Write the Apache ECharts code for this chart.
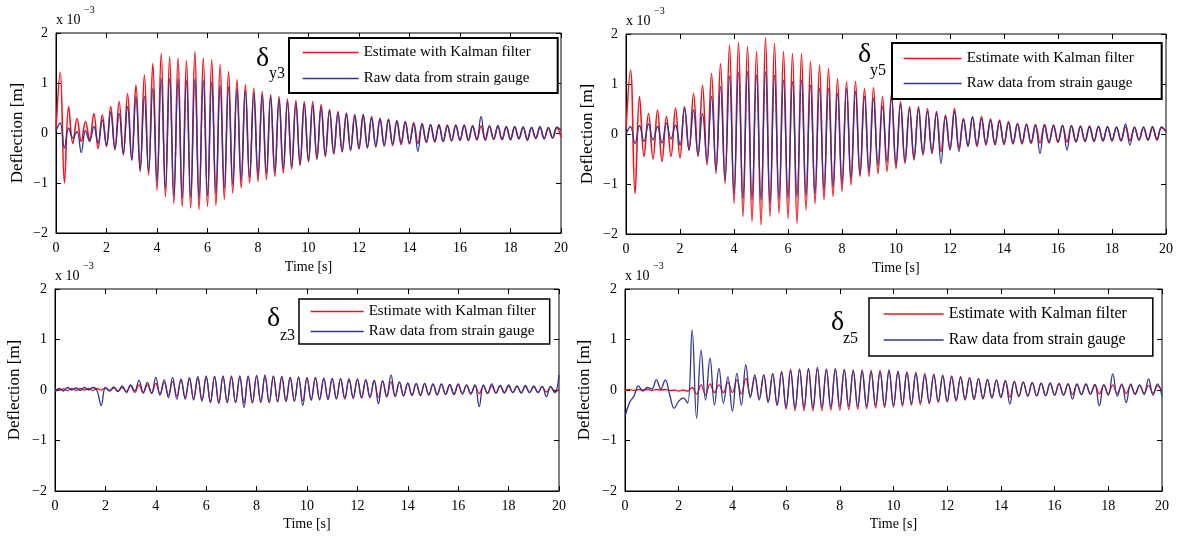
<!DOCTYPE html>
<html>
<head>
<meta charset="utf-8">
<script src="https://cdn.jsdelivr.net/npm/echarts@6/dist/echarts.min.js"></script>
<style>
  html, body { margin: 0; padding: 0; background: #fff; }
  #chart { width: 1181px; height: 536px; }
</style>
</head>
<body>
<div id="chart"></div>
<script>
// sample step of the read-off points [s], values in 1e-3 m
var dt = 1 / 6;

var xTicks = [0, 2, 4, 6, 8, 10, 12, 14, 16, 18, 20];
var yTicks = [-2, -1, 0, 1, 2];
var legendNames = ['Estimate with Kalman filter', 'Raw data from strain gauge'];

// delta y3
var y3Kalman = [
    0.05, 1.22, -1.00, 0.53, -0.21, 0.29, -0.17, 0.23, -0.14, 0.39,
    -0.31, 0.36, -0.27, 0.53, -0.34, 0.63, -0.44, 0.79, -0.54, 0.96,
    -0.77, 1.16, -0.84, 1.39, -1.14, 1.59, -1.27, 1.52, -1.41, 1.50,
    -1.47, 1.45, -1.50, 1.63, -1.53, 1.50, -1.47, 1.47, -1.45, 1.37,
    -1.33, 1.23, -1.20, 1.07, -1.10, 0.97, -1.00, 0.90, -0.97, 0.83,
    -0.93, 0.77, -0.87, 0.73, -0.80, 0.68, -0.72, 0.65, -0.65, 0.63,
    -0.58, 0.63, -0.53, 0.57, -0.47, 0.47, -0.42, 0.43, -0.38, 0.40,
    -0.35, 0.37, -0.32, 0.37, -0.30, 0.33, -0.28, 0.30, -0.26, 0.28,
    -0.25, 0.25, -0.23, 0.23, -0.22, 0.21, -0.21, 0.19, -0.19, 0.17,
    -0.18, 0.17, -0.17, 0.16, -0.16, 0.16, -0.15, 0.15, -0.15, 0.15,
    -0.14, 0.14, -0.14, 0.14, -0.13, 0.13, -0.13, 0.13, -0.12, 0.12,
    -0.12, 0.12, -0.12, 0.11, -0.11, 0.11, -0.11, 0.10, -0.10, 0.10,
    -0.08
];
var y3Raw = [
    0.05, 0.20, -0.30, 0.10, -0.10, 0.03, -0.39, 0.05, -0.17, 0.13,
    -0.20, 0.26, -0.24, 0.42, -0.31, 0.39, -0.41, 0.53, -0.54, 0.73,
    -0.74, 0.73, -0.77, 0.89, -0.97, 1.09, -1.11, 1.09, -1.25, 1.08,
    -1.30, 1.05, -1.28, 1.08, -1.30, 1.05, -1.25, 1.02, -1.20, 0.95,
    -1.10, 0.92, -1.02, 0.88, -0.95, 0.85, -0.88, 0.80, -0.85, 0.75,
    -0.80, 0.72, -0.78, 0.68, -0.72, 0.62, -0.68, 0.60, -0.62, 0.58,
    -0.55, 0.55, -0.50, 0.52, -0.45, 0.45, -0.40, 0.40, -0.36, 0.38,
    -0.33, 0.34, -0.30, 0.36, -0.28, 0.30, -0.26, 0.28, -0.25, 0.26,
    -0.22, 0.24, -0.20, 0.22, -0.20, 0.18, -0.37, 0.18, -0.18, 0.16,
    -0.16, 0.15, -0.17, 0.14, -0.15, 0.15, -0.14, 0.16, -0.14, 0.13,
    -0.13, 0.33, -0.14, 0.14, -0.12, 0.15, -0.13, 0.12, -0.14, 0.13,
    -0.11, 0.12, -0.15, 0.11, -0.10, 0.13, -0.12, 0.11, -0.10, 0.12,
    0.05
];

// delta y5
var y5Kalman = [
    0.10, 1.28, -1.19, 0.75, -0.45, 0.41, -0.50, 0.48, -0.55, 0.35,
    -0.45, 0.52, -0.48, 0.55, -0.32, 0.81, -0.45, 0.98, -0.62, 1.21,
    -0.79, 1.41, -0.99, 1.78, -1.39, 1.83, -1.65, 1.75, -1.75, 1.65,
    -1.82, 1.93, -1.65, 1.81, -1.59, 1.65, -1.69, 1.61, -1.79, 1.61,
    -1.52, 1.45, -1.39, 1.38, -1.32, 1.31, -1.25, 1.11, -1.15, 1.05,
    -1.02, 1.05, -0.85, 0.91, -0.85, 0.93, -0.79, 0.75, -0.75, 0.81,
    -0.69, 0.65, -0.59, 0.55, -0.52, 0.55, -0.42, 0.51, -0.39, 0.45,
    -0.35, 0.38, -0.32, 0.51, -0.29, 0.31, -0.25, 0.33, -0.25, 0.35,
    -0.22, 0.30, -0.22, 0.28, -0.21, 0.25, -0.20, 0.21, -0.20, 0.20,
    -0.19, 0.19, -0.18, 0.19, -0.18, 0.18, -0.17, 0.17, -0.16, 0.17,
    -0.16, 0.16, -0.15, 0.16, -0.15, 0.15, -0.14, 0.15, -0.14, 0.14,
    -0.13, 0.14, -0.13, 0.14, -0.12, 0.13, -0.12, 0.13, -0.12, 0.13,
    0.05
];
var y5Raw = [
    0.00, 0.15, -0.19, 0.17, -0.15, 0.20, -0.12, 0.15, -0.18, 0.22,
    -0.10, 0.18, -0.22, 0.51, -0.32, 0.48, -0.42, 0.41, -0.55, 0.75,
    -0.72, 0.95, -0.92, 1.16, -1.19, 1.23, -1.29, 1.25, -1.31, 1.18,
    -1.32, 1.25, -1.39, 1.18, -1.30, 1.08, -1.28, 1.05, -1.25, 1.08,
    -1.22, 0.98, -1.19, 0.91, -1.12, 0.91, -1.05, 0.81, -0.99, 0.91,
    -0.89, 0.85, -0.82, 0.75, -0.75, 0.71, -0.62, 0.55, -0.55, 0.72,
    -0.62, 0.60, -0.55, 0.50, -0.48, 0.50, -0.40, 0.45, -0.36, 0.42,
    -0.59, 0.35, -0.30, 0.45, -0.35, 0.28, -0.24, 0.35, -0.22, 0.30,
    -0.20, 0.27, -0.20, 0.25, -0.19, 0.22, -0.18, 0.20, -0.18, 0.18,
    -0.17, 0.17, -0.39, 0.17, -0.16, 0.16, -0.15, 0.17, -0.32, 0.16,
    -0.15, 0.15, -0.14, 0.14, -0.14, 0.15, -0.13, 0.14, -0.12, 0.13,
    -0.14, 0.20, -0.22, 0.13, -0.12, 0.14, -0.12, 0.15, -0.11, 0.14,
    0.05
];

// delta z3
var z3Kalman = [
    0.02, 0.00, 0.02, -0.01, 0.03, -0.01, 0.03, 0.00, 0.03, -0.01,
    0.03, 0.00, 0.04, -0.01, 0.04, -0.02, 0.05, -0.03, 0.08, -0.05,
    0.10, -0.06, 0.10, -0.06, 0.13, -0.08, 0.15, -0.10, 0.17, -0.12,
    0.20, -0.15, 0.22, -0.17, 0.24, -0.20, 0.26, -0.23, 0.27, -0.25,
    0.27, -0.25, 0.28, -0.25, 0.27, -0.26, 0.28, -0.26, 0.28, -0.25,
    0.27, -0.25, 0.27, -0.24, 0.26, -0.23, 0.25, -0.22, 0.25, -0.22,
    0.25, -0.20, 0.24, -0.20, 0.24, -0.19, 0.23, -0.18, 0.23, -0.18,
    0.22, -0.17, 0.22, -0.16, 0.20, -0.15, 0.19, -0.15, 0.18, -0.14,
    0.16, -0.13, 0.15, -0.12, 0.13, -0.11, 0.12, -0.11, 0.12, -0.10,
    0.11, -0.10, 0.11, -0.09, 0.10, -0.09, 0.10, -0.08, 0.09, -0.08,
    0.09, -0.07, 0.08, -0.07, 0.08, -0.06, 0.08, -0.06, 0.07, -0.05,
    0.07, -0.05, 0.07, -0.05, 0.06, -0.05, 0.06, -0.04, 0.06, -0.04,
    0.02
];
var z3Raw = [
    -0.05, 0.03, -0.02, 0.05, 0.00, 0.04, -0.01, 0.05, 0.00, 0.05,
    -0.01, -0.31, 0.05, -0.02, 0.06, -0.03, 0.08, -0.05, 0.10, -0.02,
    0.19, -0.05, 0.15, -0.07, 0.25, -0.10, 0.20, -0.15, 0.25, -0.18,
    0.22, -0.18, 0.25, -0.20, 0.27, -0.22, 0.28, -0.25, 0.27, -0.27,
    0.28, -0.25, 0.26, -0.25, 0.28, -0.35, 0.27, -0.25, 0.29, -0.24,
    0.30, -0.25, 0.28, -0.22, 0.27, -0.22, 0.25, -0.22, 0.26, -0.31,
    0.24, -0.20, 0.25, -0.18, 0.23, -0.18, 0.23, -0.17, 0.22, -0.16,
    0.22, -0.15, 0.21, -0.15, 0.20, -0.14, 0.19, -0.27, 0.18, -0.12,
    0.30, -0.12, 0.16, -0.11, 0.14, -0.10, 0.13, -0.10, 0.13, -0.09,
    0.12, -0.09, 0.12, -0.08, 0.11, -0.08, 0.12, -0.07, 0.10, -0.07,
    0.10, -0.33, 0.10, -0.06, 0.12, -0.06, 0.09, -0.05, 0.10, -0.05,
    0.08, -0.06, 0.09, -0.05, 0.08, -0.05, 0.07, -0.13, 0.07, -0.05,
    0.30
];

// delta z5
var z5Kalman = [
    0.00, 0.01, -0.01, 0.01, 0.00, 0.01, -0.01, 0.01, 0.00, 0.01,
    -0.01, 0.00, -0.02, 0.00, -0.02, 0.05, -0.08, 0.10, -0.10, 0.12,
    -0.05, 0.10, -0.05, 0.15, -0.05, 0.20, -0.08, 0.23, -0.12, 0.25,
    -0.16, 0.30, -0.22, 0.33, -0.30, 0.37, -0.38, 0.41, -0.41, 0.42,
    -0.41, 0.43, -0.41, 0.42, -0.41, 0.42, -0.40, 0.42, -0.40, 0.41,
    -0.39, 0.40, -0.38, 0.40, -0.37, 0.39, -0.36, 0.39, -0.35, 0.38,
    -0.34, 0.37, -0.32, 0.36, -0.30, 0.35, -0.29, 0.33, -0.27, 0.32,
    -0.25, 0.30, -0.24, 0.28, -0.22, 0.27, -0.20, 0.25, -0.19, 0.23,
    -0.18, 0.21, -0.16, 0.20, -0.15, 0.19, -0.14, 0.17, -0.13, 0.16,
    -0.12, 0.15, -0.12, 0.14, -0.11, 0.14, -0.10, 0.13, -0.10, 0.12,
    -0.09, 0.12, -0.09, 0.11, -0.08, 0.11, -0.08, 0.10, -0.08, 0.10,
    -0.07, 0.10, -0.07, 0.09, -0.07, 0.09, -0.06, 0.09, -0.06, 0.08,
    0.00
];
var z5Raw = [
    -0.53, -0.25, -0.12, 0.08, -0.02, 0.05, 0.02, 0.20, 0.02, 0.20,
    -0.10, -0.36, -0.22, -0.16, -0.26, 1.19, -0.56, 0.79, -0.20, 0.63,
    -0.30, 0.43, -0.26, 0.26, -0.42, 0.33, -0.30, 0.50, -0.15, 0.30,
    -0.20, 0.30, -0.25, 0.32, -0.30, 0.35, -0.35, 0.38, -0.36, 0.40,
    -0.35, 0.42, -0.36, 0.45, -0.35, 0.40, -0.34, 0.42, -0.33, 0.40,
    -0.32, 0.38, -0.33, 0.38, -0.32, 0.36, -0.30, 0.37, -0.30, 0.40,
    -0.30, 0.37, -0.28, 0.35, -0.27, 0.33, -0.25, 0.30, -0.25, 0.30,
    -0.23, 0.28, -0.22, 0.26, -0.20, 0.25, -0.18, 0.23, -0.17, 0.22,
    -0.16, 0.20, -0.15, 0.19, -0.14, 0.18, -0.28, 0.16, -0.12, 0.15,
    -0.12, 0.14, -0.11, 0.13, -0.11, 0.13, -0.10, 0.12, -0.10, 0.12,
    -0.18, 0.11, -0.09, 0.12, -0.08, 0.10, -0.31, 0.10, -0.10, 0.32,
    -0.12, 0.12, -0.25, 0.12, -0.09, 0.10, -0.09, 0.22, -0.10, 0.12,
    -0.12
];

var RED = '#f2141c';
var BLUE = '#2d3494';
var FONT = 'Liberation Serif';

function pts(vals) {
    return vals.map(function (v, i) { return [i * dt, v]; });
}

// plot panels: frame in px, text positions
var panels = [
    { grid: { left: 56, top: 33, width: 505, height: 200 }, label: 'y3', red: y3Kalman, blue: y3Raw, redWidth: 1.6,
      sym: [256, 59], sub: [269, 74],
      legend: { left: 289, top: 38, padding: [7, 27, 7, 13], itemGap: 11, itemWidth: 56, borderWidth: 2, fontSize: 15 },
      nameGapX: 27, nameGapY: 30 },
    { grid: { left: 626, top: 34, width: 540, height: 200 }, label: 'y5', red: y5Kalman, blue: y5Raw, redWidth: 1.6,
      sym: [858, 55], sub: [870, 71],
      legend: { left: 892, top: 43, padding: [8, 28, 8, 11], itemGap: 10, itemWidth: 58, borderWidth: 2, fontSize: 15 },
      nameGapX: 27, nameGapY: 30 },
    { grid: { left: 55, top: 289, width: 504, height: 202 }, label: 'z3', red: z3Kalman, blue: z3Raw, redWidth: 1.3,
      sym: [267, 319], sub: [280, 336],
      legend: { left: 299, top: 299, padding: [5, 14, 5, 11], itemGap: 5, itemWidth: 53, borderWidth: 1.5, fontSize: 15 },
      nameGapX: 26, nameGapY: 32 },
    { grid: { left: 625, top: 289, width: 537, height: 202 }, label: 'z5', red: z5Kalman, blue: z5Raw, redWidth: 1.3,
      sym: [831, 323], sub: [843, 339],
      legend: { left: 869, top: 298, padding: [8, 26, 8, 14], itemGap: 10, itemWidth: 60, borderWidth: 1.5, fontSize: 16 },
      nameGapX: 26, nameGapY: 32 }
];

var grids = [], xAxes = [], yAxes = [], series = [], legends = [], graphics = [];
var labelStyle = { color: '#000', fontFamily: FONT, fontSize: 14 };
var yNameStyle = { color: '#000', fontFamily: FONT, fontSize: 17 };

panels.forEach(function (p, i) {
    grids.push(Object.assign({ show: true, borderColor: '#000', borderWidth: 1, containLabel: false }, p.grid));

    // bottom / left axes with labels
    xAxes.push({
        gridIndex: i, type: 'value', position: 'bottom',
        min: xTicks[0], max: xTicks[xTicks.length - 1], interval: xTicks[1] - xTicks[0],
        axisLine: { onZero: false, lineStyle: { color: '#000', width: 1 } },
        axisTick: { inside: true, length: 5, lineStyle: { color: '#000' } },
        axisLabel: Object.assign({ margin: 8 }, labelStyle),
        splitLine: { show: false },
        name: 'Time [s]', nameLocation: 'middle', nameGap: p.nameGapX,
        nameTextStyle: labelStyle
    });
    yAxes.push({
        gridIndex: i, type: 'value', position: 'left',
        min: yTicks[0], max: yTicks[yTicks.length - 1], interval: yTicks[1] - yTicks[0],
        axisLine: { onZero: false, lineStyle: { color: '#000', width: 1 } },
        axisTick: { inside: true, length: 5, lineStyle: { color: '#000' } },
        axisLabel: Object.assign({ margin: 8, formatter: function (v) { return String(v).replace('-', '\u2212'); } }, labelStyle),
        splitLine: { show: false },
        name: 'Deflection [m]', nameLocation: 'middle', nameGap: p.nameGapY,
        nameTextStyle: yNameStyle
    });

    series.push({
        name: legendNames[0], type: 'line', xAxisIndex: i, yAxisIndex: i,
        data: pts(p.red), symbol: 'none', smooth: 0.4,
        lineStyle: { color: RED, width: p.redWidth }, itemStyle: { color: RED }, z: 2
    });
    series.push({
        name: legendNames[1], type: 'line', xAxisIndex: i, yAxisIndex: i,
        data: pts(p.blue), symbol: 'none', smooth: 0.4,
        lineStyle: { color: BLUE, width: 1.3 }, itemStyle: { color: BLUE }, z: 3
    });

    legends.push({
        data: legendNames, orient: 'vertical', left: p.legend.left, top: p.legend.top,
        padding: p.legend.padding, itemGap: p.legend.itemGap,
        itemWidth: p.legend.itemWidth, itemHeight: 14,
        itemStyle: { color: 'rgba(0,0,0,0)', borderColor: 'rgba(0,0,0,0)', opacity: 0 },
        lineStyle: { width: 1.3 },
        backgroundColor: '#fff', borderColor: '#000', borderWidth: p.legend.borderWidth, borderRadius: 0,
        textStyle: { color: '#000', fontFamily: FONT, fontSize: p.legend.fontSize, lineHeight: 14 },
        selectedMode: false
    });

    var gx = p.grid.left, gy = p.grid.top;
    graphics.push(
        { type: 'text', x: gx, y: gy - 13, style: { text: 'x 10', font: '14px "' + FONT + '"', fill: '#000', verticalAlign: 'middle' } },
        { type: 'text', x: gx + 28, y: gy - 23, style: { text: '\u22123', font: '10px "' + FONT + '"', fill: '#000', verticalAlign: 'middle' } },
        { type: 'text', x: p.sym[0], y: p.sym[1], z: 10, style: { text: '\u03b4', font: '28px "' + FONT + '"', fill: '#000', verticalAlign: 'middle' } },
        { type: 'text', x: p.sub[0], y: p.sub[1], z: 10, style: { text: p.label, font: '16px "' + FONT + '"', fill: '#000', verticalAlign: 'middle' } }
    );
});

// top / right frame ticks
panels.forEach(function (p, i) {
    xAxes.push({
        gridIndex: i, type: 'value', position: 'top',
        min: xTicks[0], max: xTicks[xTicks.length - 1], interval: xTicks[1] - xTicks[0],
        axisLine: { show: false, onZero: false },
        axisTick: { inside: true, length: 5, lineStyle: { color: '#000' } },
        axisLabel: { show: false }, splitLine: { show: false }
    });
    yAxes.push({
        gridIndex: i, type: 'value', position: 'right',
        min: yTicks[0], max: yTicks[yTicks.length - 1], interval: yTicks[1] - yTicks[0],
        axisLine: { show: false, onZero: false },
        axisTick: { inside: true, length: 5, lineStyle: { color: '#000' } },
        axisLabel: { show: false }, splitLine: { show: false }
    });
});

var chart = echarts.init(document.getElementById('chart'));
chart.setOption({
    backgroundColor: '#fff',
    animation: false,
    grid: grids,
    xAxis: xAxes,
    yAxis: yAxes,
    legend: legends,
    series: series,
    graphic: graphics
});
</script>
</body>
</html>
